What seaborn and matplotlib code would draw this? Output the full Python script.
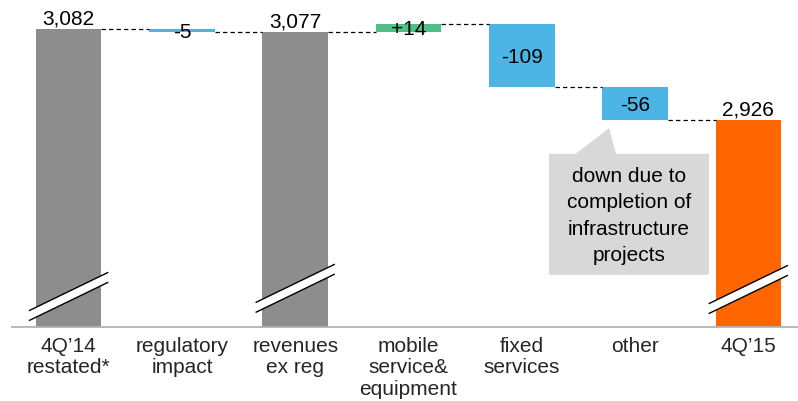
import numpy as np
import pandas as pd
import matplotlib
matplotlib.use("Agg")
import matplotlib.pyplot as plt
import seaborn as sns

# ---- data ----
categories = ["4Q’14\nrestated*", "regulatory\nimpact", "revenues\nex reg",
              "mobile\nservice&\nequipment", "fixed\nservices", "other", "4Q’15"]
values = [3082, -5, 3077, 14, -109, -56, 2926]
kinds = ["total", "delta", "total", "delta", "delta", "delta", "total"]
value_labels = ["3,082", "-5", "3,077", "+14", "-109", "-56", "2,926"]
note_text = "down due to\ncompletion of\ninfrastructure\nprojects"

# ---- style ----
GRAY = "#8d8d8d"
BLUE = "#4db5e6"
GREEN = "#50bf85"
ORANGE = "#ff6600"
NOTE_BG = "#d8d8d8"
BAR_W = 0.58

sns.set_theme(style="white")
plt.rcParams['font.family'] = ['Liberation Sans', 'DejaVu Sans']

# waterfall geometry derived from data
bottoms, heights, colors, running_after = [], [], [], []
running = 0
for i, (v, k) in enumerate(zip(values, kinds)):
    if k == "total":
        bottoms.append(0)
        heights.append(v)
        running = v
        colors.append(ORANGE if i == len(values) - 1 else GRAY)
    else:
        start, end = running, running + v
        bottoms.append(min(start, end))
        heights.append(abs(v))
        running = end
        colors.append(GREEN if v > 0 else BLUE)
    running_after.append(running)

df = pd.DataFrame({"category": categories, "height": heights, "bottom": bottoms})

fig = plt.figure(figsize=(7.98, 4.01), dpi=100)
ax = fig.add_axes([12 / 798, 74 / 401, 793 / 798, 327 / 401])

sns.barplot(data=df, x="category", y="height", order=categories,
            bottom=np.array(bottoms, dtype=float), width=BAR_W,
            errorbar=None, color=GRAY, linewidth=0, ax=ax)
for p, c in zip(ax.patches, colors):
    p.set_facecolor(c)
    p.set_edgecolor("none")

ax.set_xlim(-0.5, 6.5)
ax.set_ylim(2570, 3132)

# connectors
for i in range(len(values) - 1):
    lvl = running_after[i]
    ax.plot([i + BAR_W / 2, i + 1 - BAR_W / 2], [lvl, lvl], color="black",
            lw=0.9, dashes=(3.5, 2.5), zorder=3)

# value labels
for i, (lab, k) in enumerate(zip(value_labels, kinds)):
    if k == "total":
        ax.annotate(lab, (i, values[i]), xytext=(0, 3), textcoords="offset points",
                    ha="center", va="baseline", fontsize=15, color="black")
    else:
        ax.text(i, bottoms[i] + heights[i] / 2, lab, ha="center",
                va="center_baseline", fontsize=15, color="black", zorder=5)

# axis break marks on total bars
break_pos = {0: 2598, 2: 2612, 6: 2610}
rise, gap, half = 66, 17, 0.35
for i, yb in break_pos.items():
    xs = [i - half, i + half]
    up = [yb, yb + rise]
    lo = [yb - gap, yb - gap + rise]
    ax.fill([xs[0], xs[1], xs[1], xs[0]], [up[0], up[1], lo[1], lo[0]],
            color="white", zorder=4, lw=0)
    ax.plot(xs, up, color="black", lw=1.0, zorder=5, solid_capstyle="butt")
    ax.plot(xs, lo, color="black", lw=1.0, zorder=5, solid_capstyle="butt")

# callout
bx0, bx1, by0, by1 = 4.24, 5.652, 2659.7, 2867.6
px0, px1, tipx, tipy = 4.475, 4.831, 4.772, 2911.8
ax.fill([bx0, px0, tipx, px1, bx1, bx1, bx0],
        [by1, by1, tipy, by1, by1, by0, by0], color=NOTE_BG, lw=0, zorder=2)
ax.text((bx0 + bx1) / 2, (by0 + by1) / 2 - 3, note_text, ha="center", va="center",
        fontsize=15, linespacing=1.5, color="black", zorder=3)

# axes styling
for s in ["left", "top", "right"]:
    ax.spines[s].set_visible(False)
ax.spines["bottom"].set_color("#b3b3b3")
ax.spines["bottom"].set_linewidth(1.3)
ax.set_yticks([])
ax.set_xlabel("")
ax.set_ylabel("")
ax.set_xticks(range(len(categories)))
ax.set_xticklabels(categories, fontsize=15, linespacing=1.18)
ax.tick_params(axis="x", which="major", length=0, pad=7)
ax.set_xticks(np.arange(-0.5, len(categories), 1.0), minor=True)
ax.tick_params(axis="x", which="minor", length=6, width=1.2, color="#b3b3b3",
               direction="out")

fig.savefig("out.png", dpi=100)
